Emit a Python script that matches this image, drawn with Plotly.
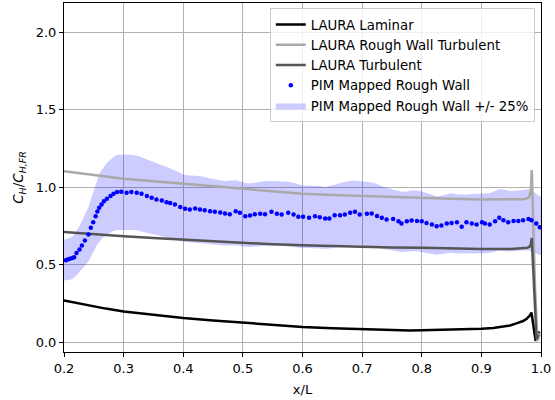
import numpy as np
import plotly.graph_objects as go

# LAURA Laminar
lam_x = [0.2, 0.21, 0.23, 0.25, 0.27, 0.3, 0.35, 0.4, 0.45, 0.5, 0.55, 0.6, 0.65, 0.7, 0.75, 0.78, 0.8,
         0.85, 0.87, 0.9, 0.92, 0.93, 0.948, 0.96, 0.97, 0.976, 0.981, 0.984, 0.988, 0.991, 0.994, 0.997]
lam_y = [0.27, 0.262, 0.247, 0.232, 0.218, 0.2, 0.178, 0.157, 0.141, 0.126, 0.112, 0.1, 0.091, 0.084, 0.079, 0.077, 0.078,
         0.081, 0.083, 0.088, 0.093, 0.1, 0.109, 0.124, 0.138, 0.152, 0.172, 0.193, 0.09, 0.01, 0.04, 0.07]

# LAURA Rough Wall Turbulent
rw_x = [0.2, 0.25, 0.3, 0.35, 0.4, 0.45, 0.5, 0.55, 0.6, 0.65, 0.7, 0.75, 0.8, 0.85, 0.9, 0.95, 0.97,
        0.976, 0.979, 0.981, 0.983, 0.9845, 0.987, 0.99, 0.994, 0.998]
rw_y = [1.105, 1.08, 1.056, 1.04, 1.024, 1.008, 0.993, 0.976, 0.959, 0.951, 0.944, 0.938, 0.933, 0.927, 0.922, 0.922, 0.924,
        0.928, 0.935, 0.948, 0.98, 1.112, 0.75, 0.35, 0.01, 0.06]

# LAURA Turbulent
tu_x = [0.2, 0.25, 0.3, 0.35, 0.4, 0.45, 0.5, 0.55, 0.6, 0.65, 0.7, 0.75, 0.8, 0.85, 0.9, 0.95, 0.97,
        0.977, 0.981, 0.983, 0.9845, 0.988, 0.9925, 0.996]
tu_y = [0.713, 0.698, 0.685, 0.674, 0.663, 0.652, 0.642, 0.633, 0.627, 0.621, 0.616, 0.613, 0.61, 0.606, 0.603, 0.603, 0.606,
        0.61, 0.618, 0.635, 0.674, 0.35, 0.02, 0.05]

# PIM Mapped Rough Wall
pim_x = [0.203, 0.206, 0.210, 0.214, 0.217, 0.221, 0.226, 0.230, 0.235, 0.241, 0.245, 0.249, 0.253, 0.256, 0.259,
         0.263, 0.267, 0.272, 0.278, 0.283, 0.289, 0.296, 0.305, 0.313, 0.322, 0.330, 0.339, 0.347, 0.355,
         0.364, 0.372, 0.378, 0.386, 0.395, 0.403, 0.411, 0.420, 0.428, 0.436, 0.445, 0.453, 0.462, 0.470,
         0.478, 0.488, 0.495, 0.504, 0.512, 0.520, 0.529, 0.537, 0.548, 0.557, 0.565, 0.576, 0.585, 0.593,
         0.601, 0.611, 0.621, 0.629, 0.638, 0.645, 0.654, 0.663, 0.671, 0.680, 0.688, 0.696, 0.708, 0.716,
         0.725, 0.733, 0.741, 0.752, 0.761, 0.766, 0.775, 0.783, 0.792, 0.800, 0.808, 0.817, 0.825, 0.833,
         0.842, 0.850, 0.859, 0.867, 0.875, 0.884, 0.892, 0.901, 0.906, 0.914, 0.923, 0.930, 0.937, 0.945,
         0.954, 0.962, 0.970, 0.979, 0.984, 0.992, 0.998]
pim_y = [0.53, 0.535, 0.54, 0.545, 0.55, 0.577, 0.60, 0.625, 0.657, 0.696, 0.74, 0.776, 0.814, 0.845, 0.869,
         0.89, 0.91, 0.927, 0.944, 0.959, 0.97, 0.972, 0.966, 0.97, 0.966, 0.959, 0.944, 0.933, 0.922,
         0.916, 0.905, 0.90, 0.89, 0.873, 0.862, 0.858, 0.864, 0.858, 0.853, 0.847, 0.843, 0.838, 0.832,
         0.827, 0.847, 0.836, 0.814, 0.819, 0.827, 0.83, 0.827, 0.843, 0.83, 0.825, 0.836, 0.825, 0.81,
         0.81, 0.804, 0.814, 0.808, 0.80, 0.80, 0.821, 0.821, 0.825, 0.836, 0.843, 0.825, 0.83, 0.832,
         0.816, 0.804, 0.793, 0.797, 0.782, 0.767, 0.782, 0.786, 0.784, 0.782, 0.771, 0.76, 0.75, 0.754,
         0.767, 0.771, 0.775, 0.746, 0.775, 0.767, 0.76, 0.775, 0.767, 0.76, 0.782, 0.804, 0.788, 0.775,
         0.784, 0.784, 0.788, 0.797, 0.788, 0.767, 0.743]

# band (+/- 25%) around lightly smoothed PIM values
py_arr = np.array(pim_y)
pad = np.concatenate([[py_arr[0]], py_arr, [py_arr[-1]]])
smooth = np.convolve(pad, np.ones(3) / 3, mode="valid")
band_x = [0.2] + pim_x + [1.0]
band_mid = np.concatenate([[smooth[0]], smooth, [smooth[-1]]])
band_up = band_mid * 1.25
band_lo = band_mid * 0.75

fig = go.Figure()
fig.add_trace(go.Scatter(
    x=band_x + band_x[::-1], y=list(band_up) + list(band_lo[::-1]),
    fill="toself", fillcolor="rgba(0,0,255,0.2)", line=dict(width=0),
    mode="lines", name="PIM Mapped Rough Wall +/- 25%", legendrank=5, hoverinfo="skip"))
fig.add_trace(go.Scatter(x=lam_x, y=lam_y, mode="lines", line=dict(color="black", width=2.5),
                         name="LAURA Laminar", legendrank=1))
fig.add_trace(go.Scatter(x=rw_x, y=rw_y, mode="lines", line=dict(color="#a9a9a9", width=2.5),
                         name="LAURA Rough Wall Turbulent", legendrank=2))
fig.add_trace(go.Scatter(x=tu_x, y=tu_y, mode="lines", line=dict(color="#555555", width=2.5),
                         name="LAURA Turbulent", legendrank=3))
fig.add_trace(go.Scatter(x=pim_x, y=pim_y, mode="markers", marker=dict(color="blue", size=4.5),
                         name="PIM Mapped Rough Wall", legendrank=4))

axis_common = dict(showline=True, linecolor="black", linewidth=1, mirror=True,
                   ticks="outside", ticklen=4, tickcolor="black", tickwidth=1,
                   showgrid=True, gridcolor="#b0b0b0", gridwidth=1, zeroline=False,
                   tickfont=dict(size=13, color="black"))
fig.update_xaxes(range=[0.2, 1.0], tickvals=[0.2, 0.3, 0.4, 0.5, 0.6, 0.7, 0.8, 0.9, 1.0],
                 tickformat=".1f", title=dict(text="x/L", font=dict(size=13, color="black"), standoff=10),
                 **axis_common)
fig.update_yaxes(range=[-0.062, 2.19], tickvals=[0.0, 0.5, 1.0, 1.5, 2.0], tickformat=".1f",
                 title=dict(text="<i>C<sub>H</sub></i>/<i>C<sub>H,FR</sub></i>",
                            font=dict(size=13.5, color="black"), standoff=8),
                 **axis_common)
fig.update_layout(
    width=555, height=400,
    margin=dict(l=64, r=14, t=3, b=48),
    paper_bgcolor="white", plot_bgcolor="white",
    font=dict(family="DejaVu Sans", size=13, color="black"),
    legend=dict(x=0.987, y=0.985, xanchor="right", yanchor="top",
                bgcolor="rgba(255,255,255,0.8)", bordercolor="#cccccc", borderwidth=1,
                font=dict(size=13.3), tracegroupgap=0, itemwidth=30),
    showlegend=True,
)
fig.write_html("out.html")
